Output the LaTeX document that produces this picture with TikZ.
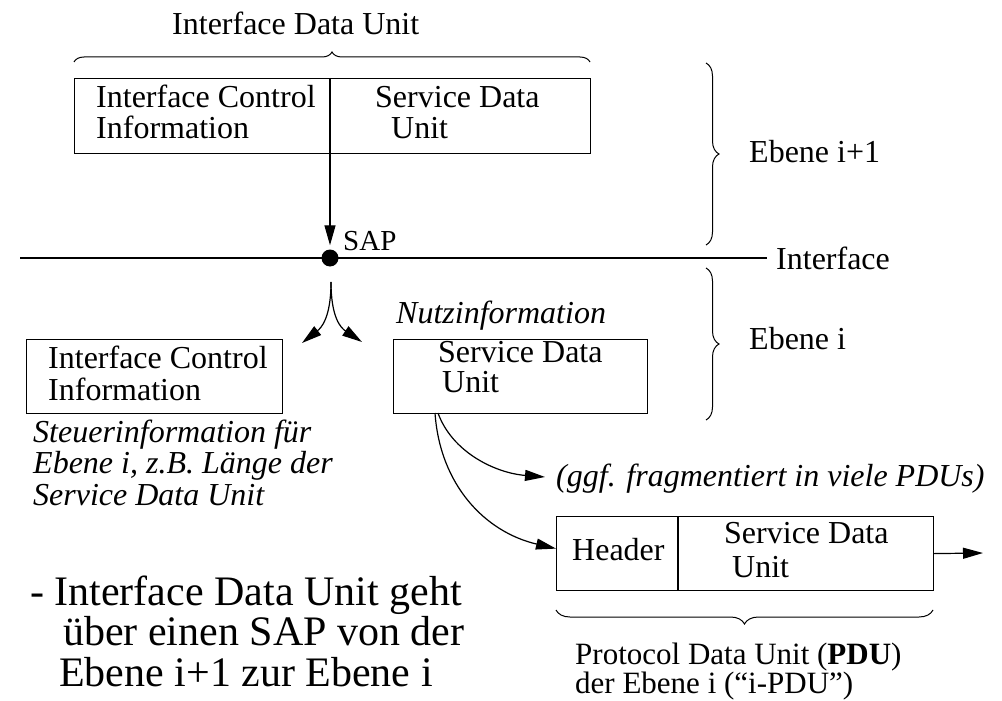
\documentclass[tikz,border=0pt]{standalone}
\usepackage{fontspec}
\setmainfont{Liberation Serif}
\usetikzlibrary{arrows.meta,decorations.pathreplacing}
\begin{document}
\begin{tikzpicture}[x=1pt,y=1pt,
  txt/.style={anchor=base west,inner sep=0pt,font=\fontsize{32}{34}\selectfont},
  itx/.style={anchor=base west,inner sep=0pt,font=\fontsize{32}{34}\selectfont\itshape},
  bigtxt/.style={anchor=base west,inner sep=0pt,font=\fontsize{42}{44}\selectfont},
  smtxt/.style={anchor=base west,inner sep=0pt,font=\fontsize{31}{33}\selectfont},
  box/.style={draw,line width=1.2pt,anchor=north west,inner sep=0pt,minimum height=74pt},
  arr/.style={line width=1.2pt,-{Triangle[length=20pt,width=11pt]}},
  brc/.style={line width=1pt,decorate},
]
\useasboundingbox (0,0) rectangle (1002,-701);

% top: interface data unit
\node[txt] (idu) at (172,-35) {Interface Data Unit};
\draw[brc,decoration={brace,amplitude=10pt}] (74,-62) -- (590,-62);
\node[box,minimum width=516pt,minimum height=75pt] (topbox) at (74,-78) {};
\coordinate (tdivt) at (330,-78);
\coordinate (tdivb) at (330,-153);
\draw[line width=1.2pt] (tdivt) -- (tdivb);
\node[txt] (t1) at (96,-107) {Interface Control};
\node[txt] (t2) at (96,-139) {Information};
\node[txt] (t3) at (375,-107) {Service Data};
\node[txt] (t4) at (391,-139) {Unit};

% SAP and interface line
\node[circle,fill,inner sep=0pt,minimum size=17pt] (sap) at (330,-258) {};
\draw[arr] (tdivb) -- ([yshift=4pt]sap.north);
\node[anchor=base west,inner sep=0pt,font=\fontsize{29}{31}\selectfont] (saplbl) at (343,-250) {SAP};
\coordinate (ifl) at (20,-258);
\coordinate (ifr) at (767,-258);
\draw[line width=2pt] (ifl) -- (ifr);
\node[txt] (iflbl) at (776,-269) {Interface};

% Ebene braces
\draw[brc,decoration={brace,amplitude=13pt}] (706,-63) -- (706,-245);
\node[txt] (e1) at (749,-162) {Ebene i+1};
\draw[brc,decoration={brace,amplitude=13pt}] (706,-268) -- (706,-420);
\node[txt] (e0) at (749,-349) {Ebene i};

% split arrows
\coordinate (st) at (331,-282);
\coordinate (la) at (302,-343);
\coordinate (ra) at (362,-342);
\draw[arr] (st) .. controls (331,-318) and (321,-328) .. (la);
\draw[arr] (st) .. controls (331,-318) and (341,-328) .. (ra);

% left ICI box
\node[box,minimum width=256pt] (ici) at (26,-339) {};
\node[txt] (i1) at (48,-368) {Interface Control};
\node[txt] (i2) at (48,-400) {Information};
\node[itx] (s1) at (33,-442) {Steuerinformation für};
\node[itx] (s2) at (33,-473) {Ebene i, z.B. Länge der};
\node[itx] (s3) at (33,-505) {Service Data Unit};

% right SDU box
\node[itx] (nutz) at (396,-323) {Nutzinformation};
\node[box,minimum width=254pt] (sdu) at (393,-339) {};
\node[txt] (d1) at (438,-362) {Service Data};
\node[txt] (d2) at (442,-392) {Unit};

% fragment arrows
\coordinate (c1) at (438,-413);
\coordinate (c2) at (435,-413);
\coordinate (g1) at (545,-477);
\draw[arr] (c1) .. controls (452,-452) and (495,-473) .. (g1);
\node[itx] (ggf) at (556,-486) {(ggf. fragmentiert in viele PDUs)};

% PDU box
\node[box,minimum width=377pt] (pdu) at (556,-516) {};
\coordinate (pdivt) at (678,-516);
\coordinate (pdivb) at (678,-590);
\draw[line width=1.2pt] (pdivt) -- (pdivb);
\draw[arr] (c2) .. controls (440,-485) and (485,-532) .. ([yshift=5pt]pdu.west);
\node[txt] (h1) at (572,-560) {Header};
\node[txt] (h2) at (724,-543) {Service Data};
\node[txt] (h3) at (732,-577) {Unit};
\coordinate (pout) at (983,-553);
\draw[arr] (pdu.east) -- (pout);
\draw[brc,decoration={brace,amplitude=14pt}] (933,-610) -- (556,-610);
\node[smtxt] (p1) at (575,-664) {Protocol Data Unit (\textbf{PDU})};
\node[smtxt] (p2) at (575,-693) {der Ebene i (“i-PDU”)};

% big text
\node[bigtxt] (b1) at (30,-605) {- Interface Data Unit geht};
\node[bigtxt] (b2) at (63,-645) {über einen SAP von der};
\node[bigtxt] (b3) at (59,-686) {Ebene i+1 zur Ebene i};
\end{tikzpicture}
\end{document}
